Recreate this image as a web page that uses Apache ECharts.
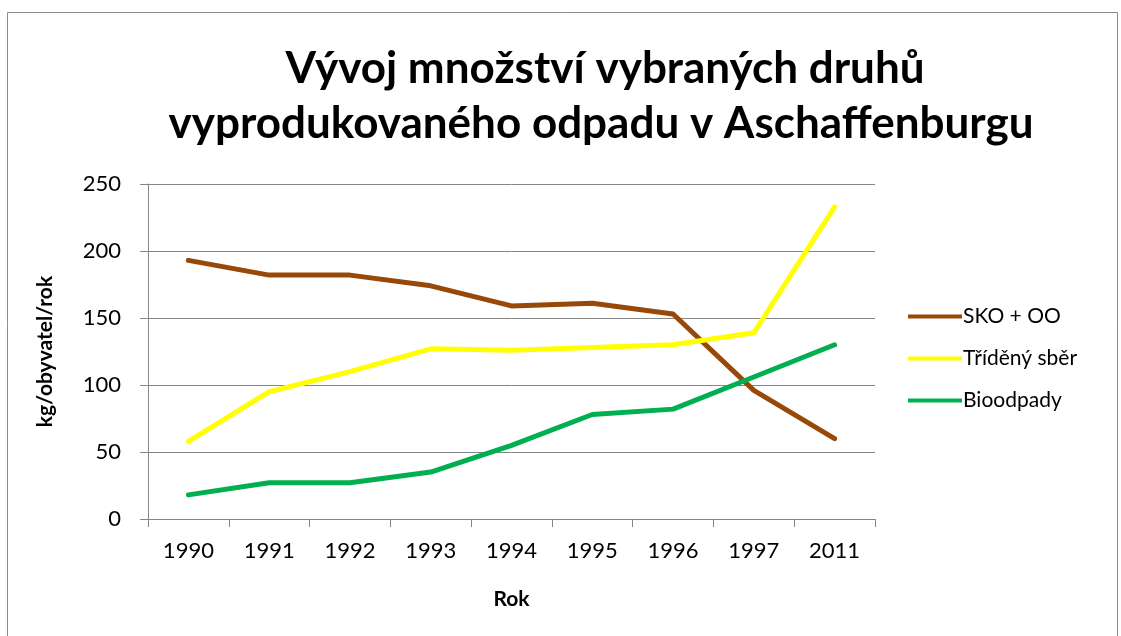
<!DOCTYPE html>
<html>
<head>
<meta charset="utf-8">
<script src="https://cdn.jsdelivr.net/npm/echarts@6/dist/echarts.min.js"></script>
<style>
  html, body { margin: 0; padding: 0; background: #fff; }
  #chart { width: 1121px; height: 636px; }
</style>
</head>
<body>
<div id="chart"></div>
<script>
const years = ['1990', '1991', '1992', '1993', '1994', '1995', '1996', '1997', '2011']
const skoOo = [193, 182, 182, 174, 159, 161, 153, 96, 60]
const trideny = [58, 95, 110, 127, 126, 128, 130, 139, 233]
const bio = [18, 27, 27, 35, 55, 78, 82, 106, 130]
const seriesNames = ['SKO + OO', 'Tříděný sběr', 'Bioodpady']
const colors = ['#984807', '#ffff00', '#00b050']

const font = 'Lato, "Noto Sans", sans-serif'
const chart = echarts.init(document.getElementById('chart'))

const lineSeries = (name, data, color) => ({
  name: name,
  type: 'line',
  data: data,
  symbol: 'none',
  lineStyle: { color: color, width: 5, cap: 'round', join: 'round' },
  itemStyle: { color: color },
  emphasis: { disabled: true }
})

const option = {
  animation: false,
  textStyle: { fontFamily: font },
  graphic: [
    {
      type: 'rect',
      shape: { x: 7.5, y: 12.5, width: 1110, height: 640 },
      style: { fill: 'none', stroke: '#8c8c8c', lineWidth: 1 }
    },
    {
      type: 'text',
      x: 605,
      y: 69,
      style: {
        text: 'Vývoj množství vybraných druhů',
        font: 'bold 44px ' + font,
        fill: '#000',
        textAlign: 'center',
        textVerticalAlign: 'middle'
      }
    },
    {
      type: 'text',
      x: 601,
      y: 124,
      style: {
        text: 'vyprodukovaného odpadu v Aschaffenburgu',
        font: 'bold 44px ' + font,
        fill: '#000',
        textAlign: 'center',
        textVerticalAlign: 'middle'
      }
    }
  ],
  grid: {
    left: 148,
    right: 246,
    top: 184,
    bottom: 117
  },
  legend: {
    orient: 'vertical',
    left: 903,
    top: 301,
    itemWidth: 54,
    itemHeight: 20,
    itemGap: 21,
    icon: 'path://M0,8 L54,8 L54,12 L0,12 Z',
    textStyle: { fontSize: 21, color: '#000', fontFamily: font, padding: [0, 0, 0, -4] },
    data: seriesNames
  },
  xAxis: {
    type: 'category',
    data: years,
    boundaryGap: true,
    name: 'Rok',
    nameLocation: 'middle',
    nameGap: 70,
    nameTextStyle: { fontSize: 21, fontWeight: 'bold', color: '#000' },
    axisLine: { lineStyle: { color: '#868686', width: 1 } },
    axisTick: { show: true, length: 8, lineStyle: { color: '#868686' } },
    axisLabel: { fontSize: 22, color: '#000', margin: 21 }
  },
  yAxis: {
    type: 'value',
    min: 0,
    max: 250,
    interval: 50,
    name: 'kg/obyvatel/rok',
    nameLocation: 'middle',
    nameGap: 92,
    nameTextStyle: { fontSize: 21, fontWeight: 'bold', color: '#000' },
    axisLine: { show: true, lineStyle: { color: '#868686', width: 1 } },
    axisTick: { show: true, length: 8, lineStyle: { color: '#868686' } },
    splitLine: { lineStyle: { color: '#868686', width: 1 } },
    axisLabel: { fontSize: 22, color: '#000', margin: 27 }
  },
  series: [
    lineSeries(seriesNames[0], skoOo, colors[0]),
    lineSeries(seriesNames[1], trideny, colors[1]),
    lineSeries(seriesNames[2], bio, colors[2])
  ]
}

chart.setOption(option)
</script>
</body>
</html>
